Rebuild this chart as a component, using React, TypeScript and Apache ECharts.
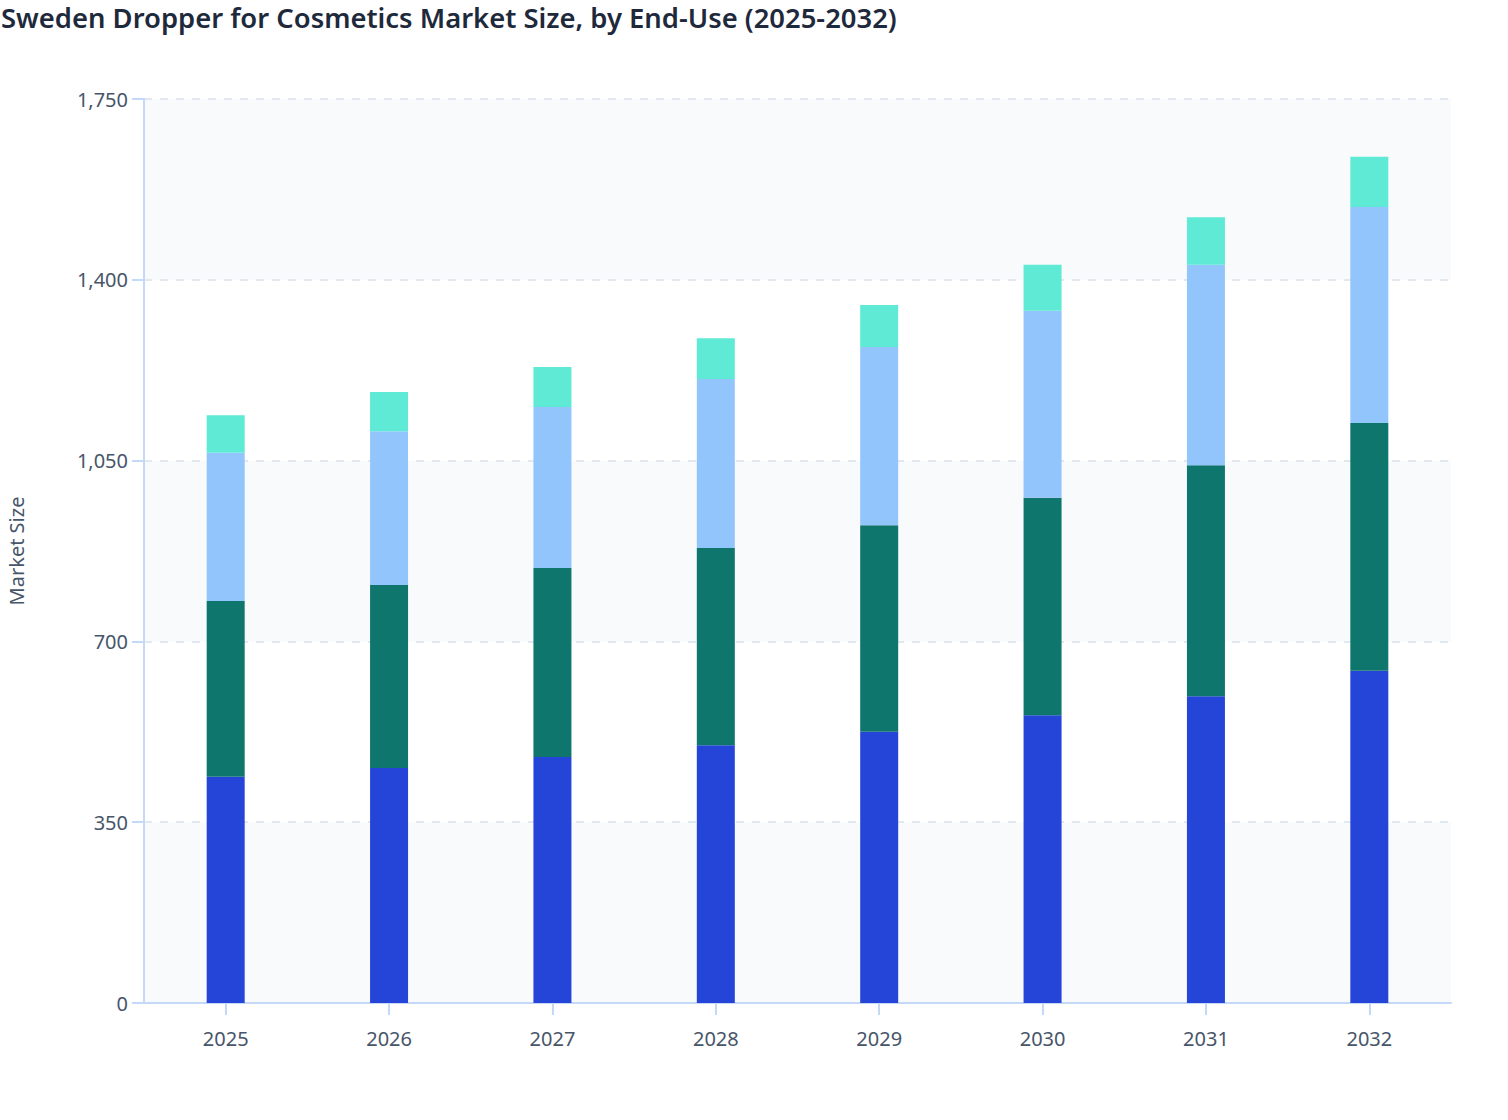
import { useEffect, useRef } from 'react';
import * as echarts from 'echarts';

const years = ['2025', '2026', '2027', '2028', '2029', '2030', '2031', '2032'];

// stacked from bottom to top
const seriesNames = ['Skincare', 'Haircare', 'Fragrances', 'Others'];
const skincare = [438, 455, 476, 499, 525, 557, 594, 643];
const haircare = [340, 354, 366, 382, 400, 421, 447, 480];
const fragrances = [287, 298, 312, 327, 345, 362, 388, 418];
const others = [73, 76, 77, 79, 81, 89, 92, 97];
const seriesColors = ['#2545d9', '#0f766e', '#93c5fd', '#5eead4'];

const FONT = '"Noto Sans", "Open Sans", sans-serif';

export default function App() {
  const chartRef = useRef<HTMLDivElement>(null);

  useEffect(() => {
    document.body.style.margin = '0';
    if (!chartRef.current) return;
    const chart = echarts.init(chartRef.current, undefined, { renderer: 'svg' });

    const values = [skincare, haircare, fragrances, others];

    const option: echarts.EChartsOption = {
      animation: false,
      backgroundColor: '#ffffff',
      title: {
        text: 'Sweden Dropper for Cosmetics Market Size, by End-Use (2025-2032)',
        left: 1,
        top: 4,
        padding: 0,
        textStyle: {
          fontFamily: FONT,
          fontSize: 27.4,
          fontWeight: 600,
          color: '#1e293b'
        }
      },
      grid: {
        left: 144,
        right: 57,
        top: 99,
        bottom: 117,
        containLabel: false,
        outerBoundsMode: 'none'
      } as any,
      xAxis: {
        type: 'category',
        data: years,
        axisLine: { lineStyle: { color: '#c3d9f7', width: 2 } },
        axisTick: { show: true, alignWithLabel: true, length: 12, lineStyle: { color: '#c3d9f7', width: 2 } },
        axisLabel: {
          fontFamily: FONT,
          fontSize: 20,
          color: '#475569',
          margin: 25
        }
      },
      yAxis: {
        type: 'value',
        min: 0,
        max: 1750,
        interval: 350,
        name: 'Market Size',
        nameLocation: 'middle',
        nameGap: 118,
        nameTextStyle: {
          fontFamily: FONT,
          fontSize: 20,
          color: '#475569'
        },
        axisLine: { show: true, lineStyle: { color: '#c3d9f7', width: 2 } },
        axisTick: { show: true, length: 12, lineStyle: { color: '#c3d9f7', width: 2 } },
        axisLabel: {
          fontFamily: FONT,
          fontSize: 20,
          color: '#475569',
          margin: 16,
          formatter: (v: number) => v.toLocaleString('en-US')
        },
        splitLine: {
          show: true,
          lineStyle: { color: '#e2e8f0', type: [8, 8], width: 2 }
        },
        splitArea: {
          show: true,
          areaStyle: { color: ['#f8fafc', '#ffffff'] }
        }
      },
      series: seriesNames.map((name, i) => ({
        name,
        type: 'bar' as const,
        stack: 'total',
        barWidth: 38,
        data: values[i],
        itemStyle: { color: seriesColors[i] }
      }))
    };

    chart.setOption(option);
    return () => chart.dispose();
  }, []);

  return <div ref={chartRef} style={{ width: 1508, height: 1120 }} />;
}
